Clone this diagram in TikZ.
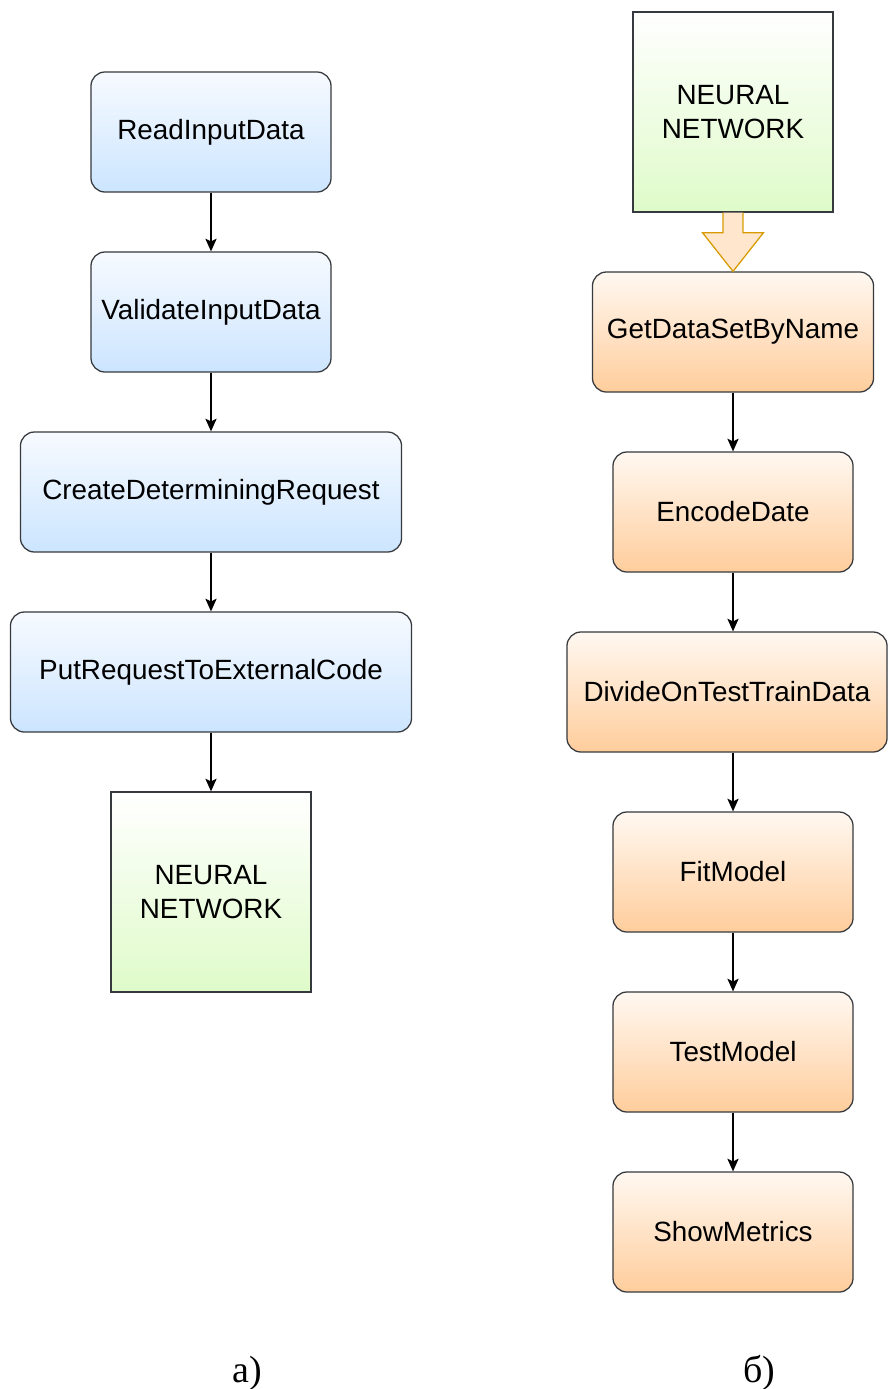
\documentclass[tikz,border=0pt]{standalone}
\usepackage{fontspec}
\setsansfont{Liberation Sans}
\setmainfont{Liberation Serif}
\usetikzlibrary{arrows.meta}
\definecolor{edgegray}{HTML}{36393D}
\definecolor{blueTop}{HTML}{F7FAFF}
\definecolor{blueBot}{HTML}{CCE5FF}
\definecolor{orangeTop}{HTML}{FFF8F1}
\definecolor{orangeBot}{HTML}{FFCD9C}
\definecolor{greenTop}{HTML}{FFFFFF}
\definecolor{greenBot}{HTML}{DFFBC9}
\definecolor{hollowFill}{HTML}{FFE6CC}
\definecolor{hollowDraw}{HTML}{D79B00}

\begin{document}
\begin{tikzpicture}[x=0.025cm, y=0.025cm,
  box/.style={draw=edgegray, line width=0.9pt, rounded corners=0.35cm,
    minimum height=3cm, inner sep=0pt, align=center,
    font=\sffamily\fontsize{19.8}{24}\selectfont},
  bluebox/.style={box, top color=blueTop, bottom color=blueBot},
  orangebox/.style={box, top color=orangeTop, bottom color=orangeBot},
  netbox/.style={draw=edgegray, line width=0.9pt, minimum width=5cm,
    minimum height=5cm, inner sep=0pt, align=center,
    top color=greenTop, bottom color=greenBot,
    font=\sffamily\fontsize{19.8}{24}\selectfont},
  flow/.style={-{Stealth[length=9pt, width=8pt, inset=2pt]}, line width=0.9pt},
  caption/.style={anchor=base, font=\rmfamily\fontsize{27}{30}\selectfont}]
\useasboundingbox (0,0) rectangle (888,-1389);
% a) left chain
\node[bluebox, minimum width=6cm] (read) at (211,-132){ReadInputData};
\node[bluebox, minimum width=6cm] (valid) at (211,-312){ValidateInputData};
\node[bluebox, minimum width=9.525cm] (create) at (211,-492){CreateDeterminingRequest};
\node[bluebox, minimum width=10.025cm] (put) at (211,-672){PutRequestToExternalCode};
\node[netbox] (netA) at (211,-892){NEURAL\\NETWORK};
\draw[flow] (read) -- (valid);
\draw[flow] (valid) -- (create);
\draw[flow] (create) -- (put);
\draw[flow] (put) -- (netA);
% b) right chain
\node[netbox] (netB) at (733,-112){NEURAL\\NETWORK};
\node[orangebox, minimum width=7.025cm] (getdata) at (733,-332){GetDataSetByName};
\node[orangebox, minimum width=6cm] (encode) at (733,-512){EncodeDate};
\node[orangebox, minimum width=8cm] (divide) at (727,-692){DivideOnTestTrainData};
\node[orangebox, minimum width=6cm] (fit) at (733,-872){FitModel};
\node[orangebox, minimum width=6cm] (test) at (733,-1052){TestModel};
\node[orangebox, minimum width=6cm] (metrics) at (733,-1232){ShowMetrics};
% hollow block arrow
\draw[fill=hollowFill, draw=hollowDraw, line width=0.9pt]
  ([xshift=-7.1pt] netB.south) -- ([xshift=-7.1pt,yshift=-14.2pt] netB.south)
  -- ([xshift=-21.7pt,yshift=-14.2pt] netB.south) -- (getdata.north)
  -- ([xshift=21.7pt,yshift=-14.2pt] netB.south) -- ([xshift=7.1pt,yshift=-14.2pt] netB.south)
  -- ([xshift=7.1pt] netB.south);
\draw[flow] (getdata) -- (encode);
\draw[flow] (encode) -- (encode |- divide.north);
\draw[flow] (fit |- divide.south) -- (fit);
\draw[flow] (fit) -- (test);
\draw[flow] (test) -- (metrics);
% captions
\node[caption] (capA) at (247,-1382){а)};
\node[caption] (capB) at (759,-1382){б)};
\end{tikzpicture}
\end{document}
